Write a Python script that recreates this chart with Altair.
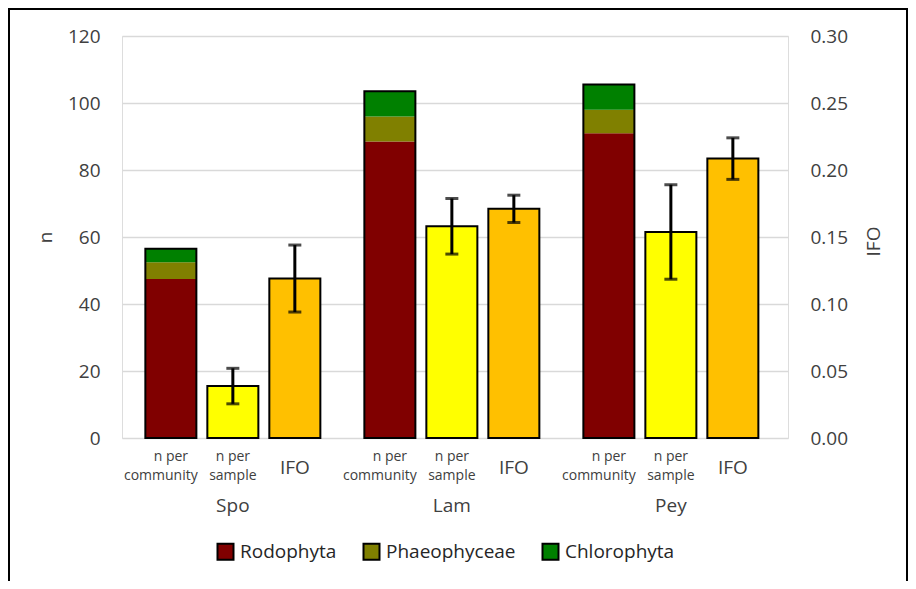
import altair as alt
import pandas as pd

# ---- data ----
groups = ["Spo", "Lam", "Pey"]
categories = ["n per community", "n per sample", "IFO"]
label_line1 = ["n per", "n per", "IFO"]
label_line2 = ["community", "sample", ""]
taxa = ["Rodophyta", "Phaeophyceae", "Chlorophyta"]
taxa_colors = ["#800000", "#808000", "#008000"]

rodophyta = [47.5, 88.5, 91.0]
phaeophyceae = [5.0, 7.5, 7.0]
chlorophyta = [4.0, 7.5, 7.5]

n_sample_mean = [15.5, 63.2, 61.5]
n_sample_err = [5.3, 8.3, 14.1]

ifo_mean = [0.119, 0.171, 0.2085]
ifo_err = [0.025, 0.0102, 0.0155]

FONT = "Open Sans"
TXT = "#404040"

# ---- tables ----
stack_rows = []
for i, g in enumerate(groups):
    for t, vals in zip(taxa, [rodophyta, phaeophyceae, chlorophyta]):
        stack_rows.append({"group": g, "cat": categories[0], "taxon": t, "value": vals[i]})
stack_df = pd.DataFrame(stack_rows)

sample_df = pd.DataFrame({"group": groups, "cat": categories[1],
                          "mean": n_sample_mean, "err": n_sample_err})
ifo_df = pd.DataFrame({"group": groups, "cat": categories[2],
                       "mean": ifo_mean, "err": ifo_err})
label_df = pd.DataFrame([{"group": g, "cat": c, "l1": a, "l2": b}
                         for g in groups
                         for c, a, b in zip(categories, label_line1, label_line2)])

x_enc = alt.X("group:N", sort=groups,
              scale=alt.Scale(domain=groups, paddingInner=0, paddingOuter=0.0205, align=0.15),
              axis=alt.Axis(title=None, domain=False, ticks=False, labelAngle=0,
                            labelPadding=58, labelFontSize=19, labelColor=TXT, labelFont=FONT))
xo_enc = alt.XOffset("cat:N", sort=categories,
                     scale=alt.Scale(domain=categories, paddingInner=0.177, paddingOuter=0.355))

y_left_scale = alt.Scale(domain=[0, 120], nice=False)
y_right_scale = alt.Scale(domain=[0, 0.30], nice=False)

left_axis = alt.Axis(title="n", values=[0, 20, 40, 60, 80, 100, 120], grid=True,
                     gridColor="#d9d9d9", gridWidth=1.5, domain=False, ticks=False,
                     labelPadding=22, labelFontSize=19, labelColor=TXT, labelFont=FONT,
                     titleFontSize=19, titleFontWeight="normal", titleColor=TXT,
                     titleFont=FONT, titlePadding=12)
right_axis = alt.Axis(title="IFO", orient="right", values=[0, 0.05, 0.10, 0.15, 0.20, 0.25, 0.30],
                      format=".2f", grid=False, domain=False, ticks=False,
                      labelPadding=22, labelFontSize=19, labelColor=TXT, labelFont=FONT,
                      titleFontSize=19, titleFontWeight="normal", titleColor=TXT,
                      titleFont=FONT, titleAngle=270, titleX=85, titleY=205,
                      titleAlign="center", titleBaseline="middle")

# ---- left (n) layer ----
stacked = alt.Chart(stack_df).transform_calculate(
    ord="indexof(['Rodophyta','Phaeophyceae','Chlorophyta'], datum.taxon)"
).mark_bar().encode(
    x=x_enc, xOffset=xo_enc,
    y=alt.Y("value:Q", stack="zero", scale=y_left_scale, axis=left_axis),
    color=alt.Color("taxon:N", sort=taxa,
                    scale=alt.Scale(domain=taxa, range=taxa_colors),
                    legend=alt.Legend(orient="none", legendX=94, legendY=506,
                                      direction="horizontal", title=None,
                                      symbolType="square", symbolSize=256,
                                      symbolStrokeColor="black", symbolStrokeWidth=2,
                                      symbolOpacity=1,
                                      labelFontSize=19, labelFont=FONT, labelColor="#262626",
                                      labelOffset=5, columnPadding=22)),
    order=alt.Order("ord:Q"),
)

outline = alt.Chart(stack_df).transform_aggregate(
    total="sum(value)", groupby=["group", "cat"]
).mark_bar(fillOpacity=0, stroke="black", strokeWidth=2).encode(
    x=x_enc, xOffset=xo_enc, y=alt.Y("total:Q", scale=y_left_scale),
)

sample_bars = alt.Chart(sample_df).mark_bar(color="#FFFF00", stroke="black", strokeWidth=2).encode(
    x=x_enc, xOffset=xo_enc, y=alt.Y("mean:Q", scale=y_left_scale),
)
sample_err_base = alt.Chart(sample_df).transform_calculate(
    lo="datum.mean - datum.err", hi="datum.mean + datum.err")
sample_rule = sample_err_base.mark_rule(color="black", strokeWidth=3).encode(
    x=x_enc, xOffset=xo_enc, y=alt.Y("lo:Q", scale=y_left_scale), y2="hi:Q")
sample_cap_lo = sample_err_base.mark_tick(color="black", thickness=3, size=13).encode(
    x=x_enc, xOffset=xo_enc, y=alt.Y("lo:Q", scale=y_left_scale))
sample_cap_hi = sample_err_base.mark_tick(color="black", thickness=3, size=13).encode(
    x=x_enc, xOffset=xo_enc, y=alt.Y("hi:Q", scale=y_left_scale))

left = alt.layer(stacked, outline, sample_bars, sample_rule, sample_cap_lo, sample_cap_hi)

# ---- right (IFO) layer ----
ifo_bars = alt.Chart(ifo_df).mark_bar(color="#FFC000", stroke="black", strokeWidth=2).encode(
    x=x_enc, xOffset=xo_enc, y=alt.Y("mean:Q", scale=y_right_scale, axis=right_axis),
)
ifo_err_base = alt.Chart(ifo_df).transform_calculate(
    lo="datum.mean - datum.err", hi="datum.mean + datum.err")
ifo_rule = ifo_err_base.mark_rule(color="black", strokeWidth=3).encode(
    x=x_enc, xOffset=xo_enc, y=alt.Y("lo:Q", scale=y_right_scale), y2="hi:Q")
ifo_cap_lo = ifo_err_base.mark_tick(color="black", thickness=3, size=13).encode(
    x=x_enc, xOffset=xo_enc, y=alt.Y("lo:Q", scale=y_right_scale))
ifo_cap_hi = ifo_err_base.mark_tick(color="black", thickness=3, size=13).encode(
    x=x_enc, xOffset=xo_enc, y=alt.Y("hi:Q", scale=y_right_scale))

right = alt.layer(ifo_bars, ifo_rule, ifo_cap_lo, ifo_cap_hi)

# ---- category labels under bars ----
txt_base = alt.Chart(label_df)
line1_small = txt_base.transform_filter(alt.datum.cat != "IFO").mark_text(
    fontSize=14, font=FONT, color=TXT, baseline="middle", align="center").encode(
    x=x_enc, xOffset=xo_enc, y=alt.value(421), text="l1:N")
line2_comm = txt_base.transform_filter(alt.datum.cat == "n per community").mark_text(
    fontSize=14, font=FONT, color=TXT, baseline="middle", align="center", dx=-10).encode(
    x=x_enc, xOffset=xo_enc, y=alt.value(440), text="l2:N")
line2_samp = txt_base.transform_filter(alt.datum.cat == "n per sample").mark_text(
    fontSize=14, font=FONT, color=TXT, baseline="middle", align="center").encode(
    x=x_enc, xOffset=xo_enc, y=alt.value(440), text="l2:N")
ifo_lab = txt_base.transform_filter(alt.datum.cat == "IFO").mark_text(
    fontSize=19, font=FONT, color=TXT, baseline="middle", align="center").encode(
    x=x_enc, xOffset=xo_enc, y=alt.value(432), text="l1:N")

# ---- outer frame ----
frame = alt.Chart(pd.DataFrame({"f": [0]})).mark_rect(
    fillOpacity=0, stroke="black", strokeWidth=2).encode(
    x=alt.value(-113), x2=alt.value(785), y=alt.value(-27), y2=alt.value(700))

chart = alt.layer(left, right, line1_small, line2_comm, line2_samp, ifo_lab, frame).resolve_scale(
    y="independent"
).properties(
    width=666, height=402,
    autosize=alt.AutoSizeParams(type="none"),
    padding={"left": 114, "top": 28, "right": 120, "bottom": 143},
).configure_view(stroke=None).configure(font=FONT)

chart.save("out.html", embed_options={"renderer": "svg", "actions": False})
